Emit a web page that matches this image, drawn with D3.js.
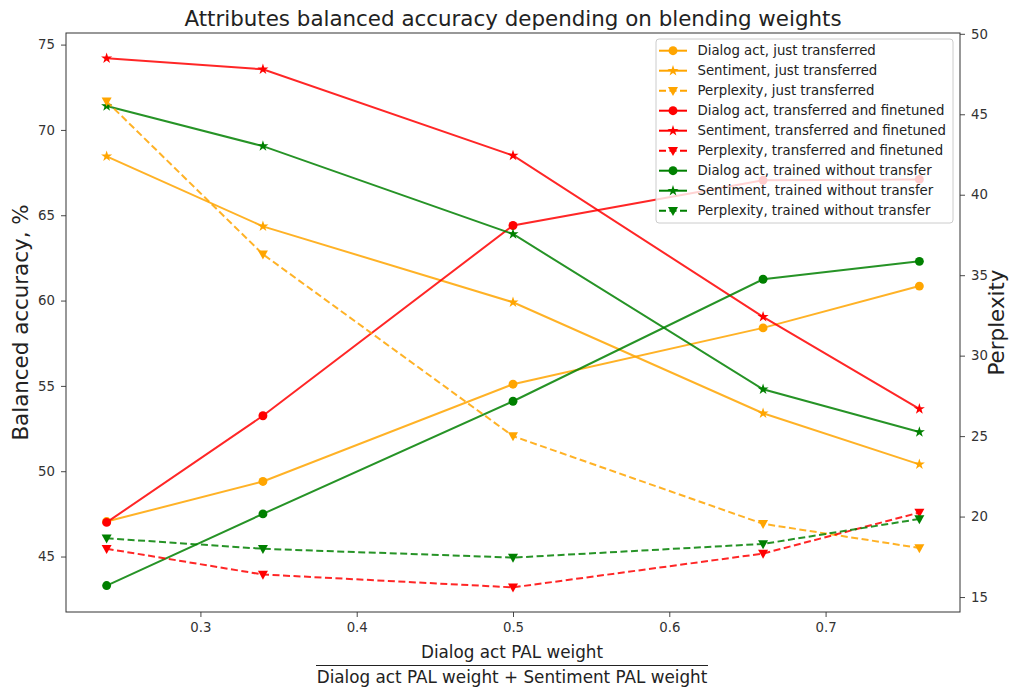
<!DOCTYPE html>
<html>
<head>
<meta charset="utf-8">
<script src="https://cdn.jsdelivr.net/npm/d3@7"></script>
<style>
  body { margin: 0; background: #fff; }
  text { font-family: "DejaVu Sans", sans-serif; }
</style>
</head>
<body>
<svg id="chart"></svg>
<script>
// blending weight (x)
const weights = [0.24, 0.34, 0.5, 0.66, 0.76];

// just transferred
const dialogJust = [47.05, 49.4, 55.1, 58.4, 60.85];
const sentJust = [68.45, 64.35, 59.9, 53.4, 50.4];
const perpJust = [45.8, 36.3, 25.0, 19.55, 18.05];

// transferred and finetuned
const dialogFine = [47.0, 53.25, 64.4, 67.05, 67.1];
const sentFine = [74.2, 73.55, 68.5, 59.05, 53.65];
const perpFine = [18.0, 16.4, 15.6, 17.7, 20.25];

// trained without transfer
const dialogNo = [43.3, 47.5, 54.1, 61.25, 62.3];
const sentNo = [71.4, 69.05, 63.9, 54.8, 52.3];
const perpNo = [18.65, 18.0, 17.45, 18.3, 19.85];

const xTicks = [0.3, 0.4, 0.5, 0.6, 0.7];
const leftTicks = [45, 50, 55, 60, 65, 70, 75];
const rightTicks = [15, 20, 25, 30, 35, 40, 45, 50];

const series = [
  { name: "Dialog act, just transferred", vals: dialogJust, color: "orange", marker: "circle", axis: "left", dash: false },
  { name: "Sentiment, just transferred", vals: sentJust, color: "orange", marker: "star", axis: "left", dash: false },
  { name: "Perplexity, just transferred", vals: perpJust, color: "orange", marker: "tri", axis: "right", dash: true },
  { name: "Dialog act, transferred and finetuned", vals: dialogFine, color: "red", marker: "circle", axis: "left", dash: false },
  { name: "Sentiment, transferred and finetuned", vals: sentFine, color: "red", marker: "star", axis: "left", dash: false },
  { name: "Perplexity, transferred and finetuned", vals: perpFine, color: "red", marker: "tri", axis: "right", dash: true },
  { name: "Dialog act, trained without transfer", vals: dialogNo, color: "green", marker: "circle", axis: "left", dash: false },
  { name: "Sentiment, trained without transfer", vals: sentNo, color: "green", marker: "star", axis: "left", dash: false },
  { name: "Perplexity, trained without transfer", vals: perpNo, color: "green", marker: "tri", axis: "right", dash: true }
];

const W = 1010, H = 688;
const M = { top: 33, right: 50, bottom: 76, left: 66 };
const PW = W - M.left - M.right;
const PH = H - M.top - M.bottom;

const svg = d3.select("#chart")
  .attr("width", W)
  .attr("height", H);

svg.append("rect").attr("width", W).attr("height", H).attr("fill", "#fff");

const g = svg.append("g").attr("transform", `translate(${M.left},${M.top})`);

const x = d3.scaleLinear().domain([0.214, 0.786]).range([0, PW]);
const yL = d3.scaleLinear().domain([41.75, 75.68]).range([PH, 0]);
const yR = d3.scaleLinear().domain([14.07, 50.05]).range([PH, 0]);

function styleAxis(a) {
  a.select(".domain").remove();
  a.selectAll(".tick line").attr("stroke", "#333").attr("stroke-width", 0.9);
  a.selectAll(".tick text").attr("fill", "#333").attr("font-size", 13.3)
    .attr("font-family", "DejaVu Sans, sans-serif");
}

g.append("g")
  .attr("transform", `translate(0,${PH})`)
  .call(d3.axisBottom(x).tickValues(xTicks).tickFormat(d3.format(".1f")).tickSize(5).tickPadding(6))
  .call(styleAxis);

g.append("g")
  .call(d3.axisLeft(yL).tickValues(leftTicks).tickSize(5).tickPadding(6))
  .call(styleAxis);

g.append("g")
  .attr("transform", `translate(${PW},0)`)
  .call(d3.axisRight(yR).tickValues(rightTicks).tickSize(5).tickPadding(6))
  .call(styleAxis);

const starPath = d3.symbol().type(d3.symbolStar).size(38)();
const circPath = d3.symbol().type(d3.symbolCircle).size(62)();
const triPath = "M-5,-3.8L5,-3.8L0,5.2Z";
function markerPath(m) { return m === "circle" ? circPath : m === "star" ? starPath : triPath; }

const plot = g.append("g");
// left axis series first, right axis (twin) drawn over them
const ordered = series.filter(s => s.axis === "left").concat(series.filter(s => s.axis === "right"));
ordered.forEach(s => {
  const yS = s.axis === "left" ? yL : yR;
  const line = d3.line().x((d, i) => x(weights[i])).y(d => yS(d));
  plot.append("path")
    .datum(s.vals)
    .attr("fill", "none")
    .attr("stroke", s.color)
    .attr("stroke-width", 2)
    .attr("stroke-opacity", 0.85)
    .attr("stroke-dasharray", s.dash ? "7,3.5" : null)
    .attr("d", line);
  plot.selectAll(null)
    .data(s.vals)
    .enter()
    .append("path")
    .attr("d", markerPath(s.marker))
    .attr("transform", (d, i) => `translate(${x(weights[i])},${yS(d)})`)
    .attr("fill", s.color);
});

// frame
g.append("rect")
  .attr("width", PW).attr("height", PH)
  .attr("fill", "none").attr("stroke", "#333").attr("stroke-width", 1);

// legend
const LX = 656 - M.left, LY = 39 - M.top, LWd = 297, LHt = 184, LS = 20;
const leg = g.append("g").attr("transform", `translate(${LX},${LY})`);
leg.append("rect")
  .attr("width", LWd).attr("height", LHt).attr("rx", 3)
  .attr("fill", "#fff").attr("fill-opacity", 0.8)
  .attr("stroke", "#ccc").attr("stroke-width", 1);
series.forEach((s, i) => {
  const ly = 11.7 + i * LS;
  const it = leg.append("g");
  it.append("line")
    .attr("x1", 3).attr("x2", 31).attr("y1", ly).attr("y2", ly)
    .attr("stroke", s.color).attr("stroke-width", 2)
    .attr("stroke-dasharray", s.dash ? "7,3.5" : null);
  it.append("path")
    .attr("d", markerPath(s.marker))
    .attr("transform", `translate(17,${ly})`)
    .attr("fill", s.color);
  it.append("text")
    .attr("x", 41.5).attr("y", ly).attr("dy", "0.35em")
    .attr("font-size", 13.3).attr("fill", "#222")
    .text(s.name);
});

// title and axis labels
svg.append("text")
  .attr("x", M.left + PW / 2).attr("y", 26)
  .attr("text-anchor", "middle").attr("font-size", 21.4).attr("fill", "#222")
  .text("Attributes balanced accuracy depending on blending weights");

svg.append("text")
  .attr("transform", `translate(28,${M.top + PH / 2}) rotate(-90)`)
  .attr("text-anchor", "middle").attr("font-size", 21.4).attr("fill", "#222")
  .text("Balanced accuracy, %");

svg.append("text")
  .attr("transform", `translate(1004,${M.top + PH / 2}) rotate(-90)`)
  .attr("text-anchor", "middle").attr("font-size", 21.4).attr("fill", "#222")
  .text("Perplexity");

const cx = M.left + PW / 2;
svg.append("text")
  .attr("x", cx - 1).attr("y", 658)
  .attr("text-anchor", "middle").attr("font-size", 16.8).attr("fill", "#222")
  .text("Dialog act PAL weight");
svg.append("line")
  .attr("x1", 316).attr("x2", 708).attr("y1", 665.5).attr("y2", 665.5)
  .attr("stroke", "#222").attr("stroke-width", 1.2);
svg.append("text")
  .attr("x", cx - 1).attr("y", 683)
  .attr("text-anchor", "middle").attr("font-size", 16.8).attr("fill", "#222")
  .text("Dialog act PAL weight + Sentiment PAL weight");
</script>
</body>
</html>
